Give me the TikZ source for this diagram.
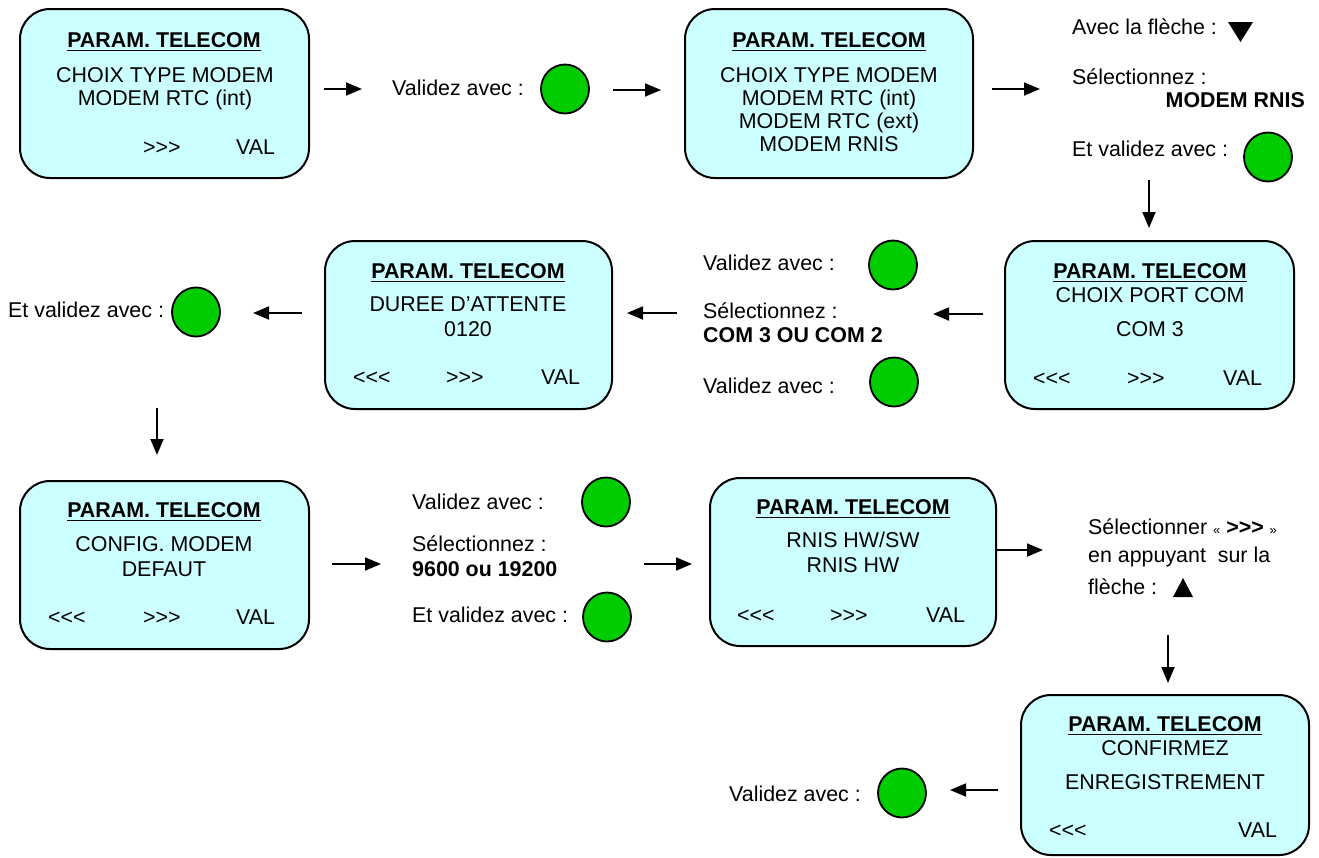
\documentclass[tikz,border=0pt]{standalone}
\usepackage{fontspec}
\setmainfont{Liberation Sans}[Ligatures=TeXOff]
\usetikzlibrary{arrows.meta,shapes.geometric}
\definecolor{screenfill}{HTML}{CCFFFF}
\definecolor{btnfill}{HTML}{00CC00}
\newcommand\fs{\fontsize{21.4}{25}\selectfont}
\newcommand\gsm{\fontsize{13}{13}\selectfont}
\tikzset{
  screenbox/.style={draw, line width=2pt, fill=screenfill, rounded corners=30pt, inner sep=0pt},
  txt/.style={font=\fs, inner sep=0pt, anchor=base},
  ltxt/.style={txt, anchor=base west},
  rtxt/.style={txt, anchor=base east},
  ttl/.style={txt, font=\fs\bfseries},
  btn/.style={draw, line width=1.8pt, fill=btnfill, ellipse, inner sep=0pt, minimum width=48pt, minimum height=49pt},
  arr/.style={line width=1.8pt, -{Triangle[length=16pt,width=13pt]}},
  uline/.style={line width=1.6pt}
}
\newcommand\scr[5]{\node[screenbox, minimum width=#4pt, minimum height=#5pt] (#1) at (#2,#3) {};}
\newcommand\ttlnode[3]{\node[ttl] (#1) at (#2,#3) {PARAM. TELECOM};
  \draw[uline] ([yshift=-3.5pt]#1.base west) -- ([yshift=-3.5pt]#1.base east);}
\begin{document}
\begin{tikzpicture}[x=1pt,y=-1pt]
\useasboundingbox (0,0) rectangle (1319,857);
\clip (0,0) rectangle (1319,857);
% ---------- screens ----------
\scr{b1}{164.5}{93.5}{289}{169}
\scr{b2}{829}{93.5}{288}{169}
\scr{b3}{1149.5}{325}{289}{168}
\scr{b4}{468.5}{325}{287}{168}
\scr{b5}{164.5}{565}{289}{168}
\scr{b6}{853}{562}{286}{168}
\scr{b7}{1165}{775}{288}{160}
% box 1
\ttlnode{b1t}{164}{47}
\node[txt] (b1l1) at (165,82) {CHOIX TYPE MODEM};
\node[txt] (b1l2) at (165,105) {MODEM RTC (int)};
\node[ltxt] (b1n) at (143,154) {>>>};
\node[ltxt] (b1v) at (236,154) {VAL};
% box 2
\ttlnode{b2t}{829}{47}
\node[txt] (b2l1) at (829,82) {CHOIX TYPE MODEM};
\node[txt] (b2l2) at (829,105) {MODEM RTC (int)};
\node[txt] (b2l3) at (829,128) {MODEM RTC (ext)};
\node[txt] (b2l4) at (829,151) {MODEM RNIS};
% box 3
\ttlnode{b3t}{1150}{278}
\node[txt] (b3l1) at (1150,302) {CHOIX PORT COM};
\node[txt] (b3l2) at (1150,336) {COM 3};
\node[ltxt] (b3p) at (1033,385) {<<<};
\node[ltxt] (b3n) at (1127,385) {>>>};
\node[ltxt] (b3v) at (1223,385) {VAL};
% box 4
\ttlnode{b4t}{468}{278}
\node[txt] (b4l1) at (468,311) {DUREE D’ATTENTE};
\node[txt] (b4l2) at (468,336) {0120};
\node[ltxt] (b4p) at (353,384) {<<<};
\node[ltxt] (b4n) at (446,384) {>>>};
\node[ltxt] (b4v) at (541,384) {VAL};
% box 5
\ttlnode{b5t}{164}{517}
\node[txt] (b5l1) at (164,551) {CONFIG. MODEM};
\node[txt] (b5l2) at (164,576) {DEFAUT};
\node[ltxt] (b5p) at (48,624) {<<<};
\node[ltxt] (b5n) at (143,624) {>>>};
\node[ltxt] (b5v) at (236,624) {VAL};
% box 6
\ttlnode{b6t}{853}{514}
\node[txt] (b6l1) at (853,547) {RNIS HW/SW};
\node[txt] (b6l2) at (853,572) {RNIS HW};
\node[ltxt] (b6p) at (737,622) {<<<};
\node[ltxt] (b6n) at (830,622) {>>>};
\node[ltxt] (b6v) at (926,622) {VAL};
% box 7
\ttlnode{b7t}{1165}{731}
\node[txt] (b7l1) at (1165,755) {CONFIRMEZ};
\node[txt] (b7l2) at (1165,789) {ENREGISTREMENT};
\node[ltxt] (b7p) at (1049,837) {<<<};
\node[ltxt] (b7v) at (1238,837) {VAL};
% ---------- instructions ----------
\node[ltxt] (i1) at (392,95) {Validez avec :};
\node[btn] (c1) at (565,89) {};
\node[ltxt] (i2a) at (1072,34) {Avec la flèche :};
\fill (1228,22) -- (1253,22) -- (1240.5,42) -- cycle;
\node[ltxt] (i2b) at (1072,84) {Sélectionnez :};
\node[rtxt, font=\fs\bfseries] (i2c) at (1305,107) {MODEM RNIS};
\node[ltxt] (i2d) at (1072,156) {Et validez avec :};
\node[btn] (c2) at (1268,157) {};
\node[ltxt] (i3a) at (703,270) {Validez avec :};
\node[btn] (c3) at (893,265) {};
\node[ltxt] (i3b) at (703,318) {Sélectionnez :};
\node[ltxt, font=\fs\bfseries] (i3c) at (703,342) {COM 3 OU COM 2};
\node[ltxt] (i3d) at (703,393) {Validez avec :};
\node[btn] (c4) at (894,382) {};
\node[ltxt] (i4) at (8,317) {Et validez avec :};
\node[btn] (c5) at (196,312) {};
\node[ltxt] (i5a) at (412,509) {Validez avec :};
\node[btn] (c6) at (606,502) {};
\node[ltxt] (i5b) at (412,551) {Sélectionnez :};
\node[ltxt, font=\fs\bfseries] (i5c) at (412,576) {9600 ou 19200};
\node[ltxt] (i5d) at (412,622) {Et validez avec :};
\node[btn] (c7) at (607,617) {};
\node[ltxt] (i6a) at (1088,534) {Sélectionner {\gsm«} \textbf{>>>} {\gsm»}};
\node[ltxt] (i6b) at (1088,562) {en appuyant\ \ sur la};
\node[ltxt] (i6c) at (1088,594) {flèche :};
\fill (1173,597) -- (1193,597) -- (1183,578) -- cycle;
\node[ltxt] (i7) at (729,801) {Validez avec :};
\node[btn] (c8) at (902,793) {};
% ---------- arrows ----------
\coordinate (a1s) at (324,89);  \coordinate (a1e) at (362,89);
\coordinate (a2s) at (613,90);  \coordinate (a2e) at (661,90);
\coordinate (a3s) at (992,89);  \coordinate (a3e) at (1040,89);
\coordinate (a4s) at (1149,180); \coordinate (a4e) at (1149,228);
\coordinate (a5s) at (983,314); \coordinate (a5e) at (933,314);
\coordinate (a6s) at (677,313); \coordinate (a6e) at (627,313);
\coordinate (a7s) at (302,313); \coordinate (a7e) at (253,313);
\coordinate (a8s) at (157,408); \coordinate (a8e) at (157,455);
\coordinate (a9s) at (332,564); \coordinate (a9e) at (381,564);
\coordinate (a10s) at (644,564); \coordinate (a10e) at (692,564);
\coordinate (a11e) at (1043,550);
\coordinate (a12s) at (1168,635); \coordinate (a12e) at (1168,683);
\coordinate (a13s) at (998,790); \coordinate (a13e) at (950,790);
\draw[arr] (a1s) -- (a1e);
\draw[arr] (a2s) -- (a2e);
\draw[arr] (a3s) -- (a3e);
\draw[arr] (a4s) -- (a4e);
\draw[arr] (a5s) -- (a5e);
\draw[arr] (a6s) -- (a6e);
\draw[arr] (a7s) -- (a7e);
\draw[arr] (a8s) -- (a8e);
\draw[arr] (a9s) -- (a9e);
\draw[arr] (a10s) -- (a10e);
\draw[arr] (b6.east |- a11e) -- (a11e);
\draw[arr] (a12s) -- (a12e);
\draw[arr] (a13s) -- (a13e);
\end{tikzpicture}
\end{document}
